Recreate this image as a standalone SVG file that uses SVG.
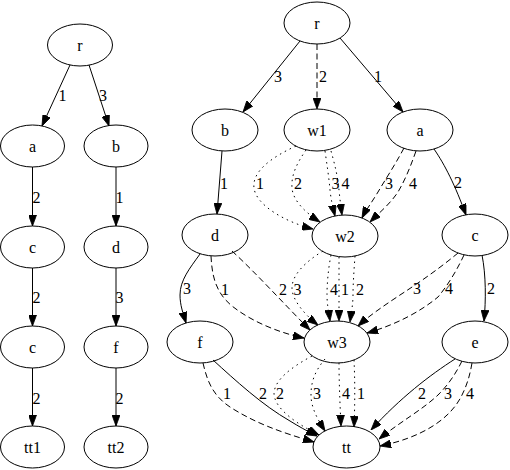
<svg xmlns="http://www.w3.org/2000/svg" width="510" height="470" viewBox="0 0 510 470">
<style>
  .node ellipse { fill: none; stroke: #000; stroke-width: 1; }
  text { font-family: "Liberation Serif", "Times New Roman", serif; font-size: 16px; fill: #000; text-anchor: middle; }
  .e { fill: none; stroke: #000; stroke-width: 1; marker-end: url(#arr); }
  .dash { stroke-dasharray: 6 3.5; }
  .dot { stroke-dasharray: 1.5 4; }
</style>
<defs>
  <marker id="arr" viewBox="0 0 11 8" refX="11" refY="4" markerWidth="11" markerHeight="8" markerUnits="userSpaceOnUse" orient="auto">
    <path d="M0,0 L11,4 L0,8 z" fill="#000" stroke="#000" stroke-width="0.8"/>
  </marker>
</defs>
<rect width="510" height="470" fill="#fff"/>

<!-- Left graph nodes -->
<g id="L_r" class="node"><ellipse cx="80" cy="45" rx="32.5" ry="21"/><text x="80" y="50.5">r</text></g>
<g id="L_a" class="node"><ellipse cx="32.5" cy="146" rx="32" ry="21"/><text x="32.5" y="151.5">a</text></g>
<g id="L_b" class="node"><ellipse cx="116" cy="146" rx="32" ry="21"/><text x="116" y="151.5">b</text></g>
<g id="L_c1" class="node"><ellipse cx="32.5" cy="247" rx="32" ry="21"/><text x="32.5" y="252.5">c</text></g>
<g id="L_d" class="node"><ellipse cx="116" cy="247" rx="32" ry="21"/><text x="116" y="252.5">d</text></g>
<g id="L_c2" class="node"><ellipse cx="32.5" cy="347" rx="32" ry="21"/><text x="32.5" y="352.5">c</text></g>
<g id="L_f" class="node"><ellipse cx="116" cy="347" rx="32" ry="21"/><text x="116" y="352.5">f</text></g>
<g id="L_tt1" class="node"><ellipse cx="32.5" cy="447" rx="32" ry="21"/><text x="32.5" y="452.5">tt1</text></g>
<g id="L_tt2" class="node"><ellipse cx="116" cy="447" rx="32" ry="21"/><text x="116" y="452.5">tt2</text></g>

<!-- Right graph nodes -->
<g id="R_r" class="node"><ellipse cx="317" cy="23" rx="33" ry="21"/><text x="317" y="28.5">r</text></g>
<g id="R_b" class="node"><ellipse cx="225" cy="130" rx="33" ry="21"/><text x="225" y="135.5">b</text></g>
<g id="R_w1" class="node"><ellipse cx="317" cy="130" rx="33" ry="21"/><text x="317" y="135.5">w1</text></g>
<g id="R_a" class="node"><ellipse cx="420" cy="130" rx="33" ry="21"/><text x="420" y="135.5">a</text></g>
<g id="R_d" class="node"><ellipse cx="215" cy="235" rx="33" ry="21"/><text x="215" y="240.5">d</text></g>
<g id="R_w2" class="node"><ellipse cx="345" cy="236" rx="33" ry="21"/><text x="345" y="241.5">w2</text></g>
<g id="R_c" class="node"><ellipse cx="475" cy="235" rx="33" ry="21"/><text x="475" y="240.5">c</text></g>
<g id="R_f" class="node"><ellipse cx="200" cy="342" rx="33" ry="21"/><text x="200" y="347.5">f</text></g>
<g id="R_w3" class="node"><ellipse cx="337" cy="342" rx="33" ry="21"/><text x="337" y="347.5">w3</text></g>
<g id="R_e" class="node"><ellipse cx="475" cy="342" rx="33" ry="21"/><text x="475" y="347.5">e</text></g>
<g id="R_tt" class="node"><ellipse cx="346.5" cy="447" rx="33.5" ry="21"/><text x="346.5" y="452.5">tt</text></g>

<g id="connectors">
  <!-- left graph -->
  <path class="e" d="M70,65 L42,126"/><text x="62.5" y="100.5">1</text>
  <path class="e" d="M89,65 L109,126"/><text x="103" y="100.5">3</text>
  <path class="e" d="M32.5,167 L32.5,226"/><text x="36.5" y="202.5">2</text>
  <path class="e" d="M116,167 L116,226"/><text x="119.5" y="202.5">1</text>
  <path class="e" d="M32.5,268 L32.5,326"/><text x="36.5" y="303">2</text>
  <path class="e" d="M116,268 L116,326"/><text x="119.5" y="303">3</text>
  <path class="e" d="M32.5,368 L32.5,426"/><text x="36.5" y="403.5">2</text>
  <path class="e" d="M116,368 L116,426"/><text x="119.5" y="403.5">2</text>

  <!-- right graph: r -->
  <path class="e" d="M300,41 L243,112"/><text x="278" y="81.5">3</text>
  <path class="e dash" d="M317,44 L317,109"/><text x="323" y="81.5">2</text>
  <path class="e" d="M340,38 L403,112"/><text x="378" y="81.5">1</text>

  <!-- b -> d -->
  <path class="e" d="M222,151 L217,214"/><text x="224" y="188.5">1</text>

  <!-- w1 -> w2 -->
  <path class="e dot" d="M296,146 C270,158 252,172 254,188 C256,205 285,222 313,229"/><text x="260" y="188.5">1</text>
  <path class="e dot" d="M306,150 C297,163 291,175 292,188 C293,201 306,213 320,222"/><text x="298" y="188.5">2</text>
  <path class="e dot" d="M325,151 C327,165 329,178 330,190 C331,200 333,208 335,216"/><text x="335.5" y="188.5">3</text>
  <path class="e dot" d="M331,151 C335,165 338,178 339,190 C340,200 341,208 342,215"/><text x="345.5" y="188.5">4</text>

  <!-- a -> w2, a -> c -->
  <path class="e dash" d="M404,148 C395,165 385,180 378,192 C372,202 366,210 362,218"/><text x="389" y="188.5">3</text>
  <path class="e dash" d="M416,151 C410,168 405,180 398,192 C390,204 380,212 370,222"/><text x="413" y="188.5">4</text>
  <path class="e" d="M434,149 C445,165 455,185 466,215"/><text x="458" y="187.5">2</text>

  <!-- d -> f, d -> w3 -->
  <path class="e" d="M200,254 C190,268 180,280 180,295 C180,305 183,313 186,323"/><text x="187" y="293.5">3</text>
  <path class="e dash" d="M211,256 C212,275 215,292 232,306 C252,322 280,333 304,338"/><text x="225" y="294.5">1</text>
  <path class="e dash" d="M232,251 C255,272 285,305 310,330"/><text x="283" y="294.5">2</text>

  <!-- w2 -> w3 -->
  <path class="e dot" d="M323,251 C305,262 292,275 292,288 C292,300 305,315 318,325"/><text x="297.5" y="294.5">3</text>
  <path class="e dot" d="M331,255 C328,270 327,285 327,295 C327,305 329,313 330,321"/><text x="334" y="294.5">4</text>
  <path class="e dot" d="M339,257 C339,275 339,300 339,321"/><text x="345" y="294.5">1</text>
  <path class="e dot" d="M355,256 C354,270 353,285 353,295 C353,305 351,314 350,322"/><text x="360" y="294.5">2</text>

  <!-- c -> w3, c -> e -->
  <path class="e dash" d="M458,253 C440,268 420,282 400,295 C385,305 370,315 358,326"/><text x="417" y="293.5">3</text>
  <path class="e dash" d="M464,255 C457,270 448,285 438,297 C420,312 395,325 367,333"/><text x="449" y="293.5">4</text>
  <path class="e" d="M482,255 C486,275 486,300 484,321"/><text x="491" y="293.5">2</text>

  <!-- f -> tt -->
  <path class="e dash" d="M203,363 C207,380 212,395 230,407 C255,423 280,432 314,442"/><text x="227" y="398.5">1</text>
  <path class="e" d="M213,360 C235,380 262,405 290,421 C298,426 307,431 317,436"/><text x="263" y="398.5">2</text>

  <!-- w3 -> tt -->
  <path class="e dot" d="M312,356 C290,368 275,380 274,393 C274,408 295,423 319,435"/><text x="280" y="398.5">2</text>
  <path class="e dot" d="M325,359 C314,372 311,383 311,395 C311,408 318,420 325,431"/><text x="317" y="398.5">3</text>
  <path class="e dot" d="M339,363 C339,380 340,405 341,426"/><text x="346" y="398.5">4</text>
  <path class="e dot" d="M354,360 C355,380 355,405 354,427"/><text x="361" y="398.5">1</text>

  <!-- e -> tt -->
  <path class="e" d="M455,359 C430,375 400,398 371,430"/><text x="422" y="398.5">2</text>
  <path class="e dash" d="M462,361 C455,375 448,385 438,395 C422,410 400,422 379,439"/><text x="448" y="398.5">3</text>
  <path class="e dash" d="M472,363 C470,375 467,385 462,395 C450,420 420,438 380,446"/><text x="470" y="398.5">4</text>
</g>
</svg>
